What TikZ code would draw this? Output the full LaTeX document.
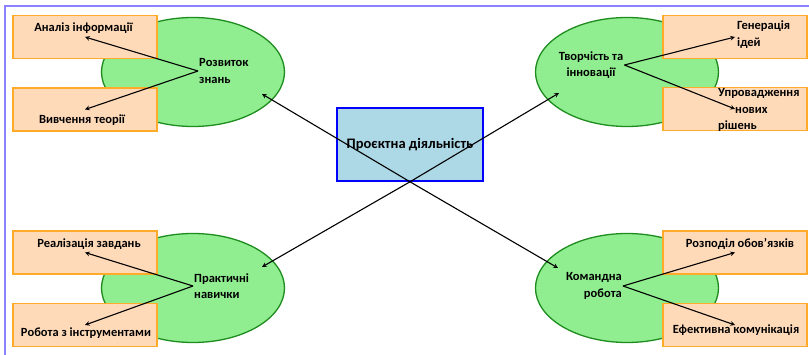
\documentclass[tikz,border=0pt]{standalone}
\usepackage{fontspec}
\setmainfont{Carlito}
\usetikzlibrary{shapes.geometric, calc}
\definecolor{themeGreen}{RGB}{144, 238, 144}
\definecolor{themeDarkGreen}{RGB}{30, 140, 30}
\definecolor{themePeach}{RGB}{255, 218, 185}
\definecolor{themeOrange}{RGB}{255, 170, 40}
\definecolor{themeBlue}{RGB}{173, 216, 230}
\definecolor{themeFrame}{RGB}{140, 130, 255}

\begin{document}
\begin{tikzpicture} [
        x=1pt, y=-1pt,
        topic/.style={ellipse, draw=themeDarkGreen, fill=themeGreen, line width=1.3pt, minimum width=183pt, minimum height=109pt, inner sep=0pt},
        item/.style={draw=themeOrange, fill=themePeach, line width=1.3pt, minimum width=144pt, minimum height=43pt, inner sep=0pt},
        txt/.style={font=\bfseries\fontsize{12.5}{16.5}\selectfont, inner sep=1pt},
        arr/.style={-stealth, line width=1.1pt},
        l/.style={align=left},
        r/.style={align=right},
        c/.style={align=center}
    ]
        \useasboundingbox (0,0) rectangle (809,355);
        \draw[themeFrame, line width=1.3pt] (5,355) -- (5,6) -- (809,6);

        % TOPICS
        \node [topic] (e1) at (193,72) {};
        \node [topic] (e2) at (627,72) {};
        \node [topic] (e3) at (193,288) {};
        \node [topic] (e4) at (627,288) {};

        % ITEMS
        \node [item] (b1) at (85,37) {};
        \node [item] (b2) at (85,109.5) {};
        \node [item] (b3) at (85,252.5) {};
        \node [item] (b4) at (85,325) {};
        \node [item] (b5) at (735,37) {};
        \node [item] (b6) at (735,109) {};
        \node [item] (b7) at (735,252.5) {};
        \node [item] (b8) at (735,325) {};

        \node [draw=blue, fill=themeBlue, line width=1.6pt, minimum width=146pt, minimum height=73pt, txt, font=\bfseries\fontsize{14.5}{16}\selectfont] (proj) at (410,144.5) {Проєктна діяльність};

        % TOPIC: Розвиток знань
        \draw (e1) ++(5,-1) node[txt, l, anchor=west] (e1t) {Розвиток\\знань};
        \draw (b1) ++(-1.5,-9) node[txt] (b1t) {Аналіз інформації};
        \draw (b2) ++(-3,10.5) node[txt] (b2t) {Вивчення теорії};

        % TOPIC: Творчість та інновації
        \draw (e2) ++(-36,-7) node[txt, c] (e2t) {Творчість та\\інновації};
        \draw (b5) ++(1,-2.5) node[txt, l, anchor=west] (b5t) {Генерація\\ідей};
        \draw (b6) ++(-18,1) node[txt, l, anchor=west] (b6t) {Упровадження\\\hspace{17pt}нових\\рішень};

        % TOPIC: Практичні навички
        \draw (e3) ++(0,-2) node[txt, l, anchor=west] (e3t) {Практичні\\навички};
        \draw (b3) ++(4,-8.5) node[txt] (b3t) {Реалізація завдань};
        \draw (b4) ++(1,8) node[txt] (b4t) {Робота з інструментами};

        % TOPIC: Командна робота
        \draw (e4) ++(-4,-2) node[txt, r, anchor=east] (e4t) {Командна\\робота};
        \draw (b7) ++(5,-8.5) node[txt] (b7t) {Розподіл обов’язків};
        \draw (b8) ++(1,5) node[txt] (b8t) {Ефективна комунікація};

        % ARROWS
        \draw[arr] (e1t.west) -- (b1.center);
        \draw[arr] (e1t.west) -- (b2.center);
        \draw[arr] (e2t.east) -- (b5.center);
        \draw[arr] (e2t.east) -- (b6.center);
        \draw[arr] (e3t.west) -- (b3.center);
        \draw[arr] (e3t.west) -- (b4.center);
        \draw[arr] (e4t.east) -- (b7.center);
        \draw[arr] (e4t.east) -- (b8.center);

        \draw[arr] (proj.south) -- ($ (e1.center) + (69, 22) $);
        \draw[arr] (proj.south) -- ($ (e2.center) + (-68, 21) $);
        \draw[arr] (proj.south) -- ($ (e3.center) + (69, -21) $);
        \draw[arr] (proj.south) -- ($ (e4.center) + (-69, -20) $);
    \end{tikzpicture}
\end{document}
